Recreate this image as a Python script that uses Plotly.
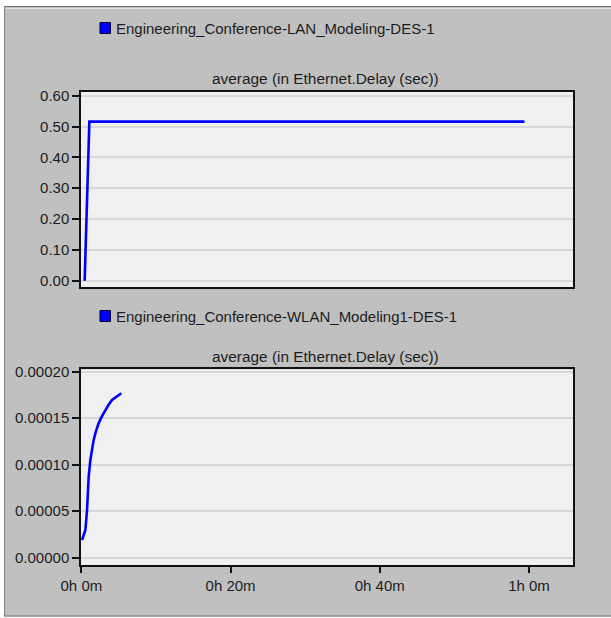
import plotly.graph_objects as go
from plotly.subplots import make_subplots

# ---- data (time in minutes, delay in seconds) ----
lan_name = "Engineering_Conference-LAN_Modeling-DES-1"
wlan_name = "Engineering_Conference-WLAN_Modeling1-DES-1"
panel_title = "average (in Ethernet.Delay (sec))"

lan_time = [0.44, 1.07, 59.4]
lan_delay = [0.0, 0.516, 0.516]

wlan_time = [0.09, 0.54, 0.76, 0.98, 1.2, 1.42, 1.65, 1.95, 2.31, 2.75, 3.21,
             3.65, 4.11, 4.7, 5.35]
wlan_delay = [1.9e-5, 2.98e-5, 5.13e-5, 8.71e-5, 1.05e-4, 1.17e-4, 1.267e-4,
              1.36e-4, 1.445e-4, 1.52e-4, 1.588e-4, 1.645e-4, 1.696e-4,
              1.735e-4, 1.768e-4]

x_tick_vals = [0, 20, 40, 60]
x_tick_text = ["0h 0m", "0h 20m", "0h 40m", "1h 0m"]
y1_ticks = [0.0, 0.1, 0.2, 0.3, 0.4, 0.5, 0.6]
y2_ticks = [0.0, 0.00005, 0.00010, 0.00015, 0.00020]

W, H = 611, 618
L, R, T, B = 81, 37.5, 92, 53
ph = H - T - B
pw = W - L - R

def px_x(x):
    return (x - L) / pw

def px_y(y):
    return (H - B - y) / ph

fig = make_subplots(rows=2, cols=1, shared_xaxes=False, vertical_spacing=0.05)

fig.add_trace(go.Scatter(x=lan_time, y=lan_delay, mode="lines",
                         line=dict(color="#0000ff", width=2.6),
                         showlegend=False, hoverinfo="skip"), row=1, col=1)
fig.add_trace(go.Scatter(x=wlan_time, y=wlan_delay, mode="lines",
                         line=dict(color="#0000ff", width=2.6),
                         showlegend=False, hoverinfo="skip"), row=2, col=1)

font = dict(family="Arial, Liberation Sans, sans-serif", size=15, color="#1c1c1c")
title_font = dict(family="Arial, Liberation Sans, sans-serif", size=15.4, color="#1c1c1c")
tick_font = dict(family="Arial, Liberation Sans, sans-serif", size=15, color="#1c1c1c")

axis_common = dict(showline=True, linecolor="#111111", linewidth=1.5, mirror=True,
                   zeroline=False, tickfont=tick_font)

fig.update_layout(
    width=W, height=H,
    margin=dict(l=L, r=R, t=T, b=B),
    paper_bgcolor="#c0c0c0",
    plot_bgcolor="#f0f0f0",
    font=font,
    xaxis=dict(domain=[0, 1], range=[-0.05, 65.9], showgrid=False,
               showticklabels=False, ticks="", **axis_common),
    yaxis=dict(domain=[px_y(287), 1], range=[-0.0205, 0.612], tickvals=y1_ticks,
               tickformat=".2f", ticks="outside", ticklen=7, tickwidth=1.5,
               tickcolor="#111111", showgrid=True, gridcolor="#d8d8d8", gridwidth=1.5,
               **axis_common),
    xaxis2=dict(domain=[0, 1], range=[-0.05, 65.9], showgrid=False,
                tickvals=x_tick_vals, ticktext=x_tick_text, ticks="outside",
                ticklen=6, tickwidth=1.5, tickcolor="#111111", **axis_common),
    yaxis2=dict(domain=[0, px_y(369.3)], range=[-0.0000078, 0.0002026],
                tickvals=y2_ticks, tickformat=".5f", ticks="outside", ticklen=7,
                tickwidth=1.5, tickcolor="#111111", showgrid=True,
                gridcolor="#d8d8d8", gridwidth=1.5, **axis_common),
)

shapes = [
    # white surroundings of the gray window panel
    dict(type="rect", xref="paper", yref="paper", x0=px_x(-2), x1=px_x(W + 2),
         y0=px_y(6), y1=px_y(-2), fillcolor="white", line=dict(width=0)),
    dict(type="rect", xref="paper", yref="paper", x0=px_x(-2), x1=px_x(4),
         y0=px_y(H + 2), y1=px_y(-2), fillcolor="white", line=dict(width=0)),
    dict(type="rect", xref="paper", yref="paper", x0=px_x(-2), x1=px_x(W + 2),
         y0=px_y(H + 2), y1=px_y(616.5), fillcolor="white", line=dict(width=0)),
    # window border lines
    dict(type="line", xref="paper", yref="paper", x0=px_x(4), x1=px_x(W + 2),
         y0=px_y(6.5), y1=px_y(6.5), line=dict(color="#6e6e6e", width=1.2)),
    dict(type="line", xref="paper", yref="paper", x0=px_x(4), x1=px_x(W + 2),
         y0=px_y(8.5), y1=px_y(8.5), line=dict(color="#e4e4e4", width=1.2)),
    dict(type="line", xref="paper", yref="paper", x0=px_x(4.5), x1=px_x(4.5),
         y0=px_y(6), y1=px_y(616.5), line=dict(color="#8a8a8a", width=1.2)),
    dict(type="line", xref="paper", yref="paper", x0=px_x(4), x1=px_x(W + 2),
         y0=px_y(616), y1=px_y(616), line=dict(color="#6e6e6e", width=1.2)),
    # legend swatches
    dict(type="rect", xref="paper", yref="paper",
         x0=px_x(100), x1=px_x(110.5), y0=px_y(33.5), y1=px_y(22.5),
         fillcolor="#0000ff", line=dict(color="#000033", width=1)),
    dict(type="rect", xref="paper", yref="paper",
         x0=px_x(100), x1=px_x(110.5), y0=px_y(321.5), y1=px_y(310.5),
         fillcolor="#0000ff", line=dict(color="#000033", width=1)),
]

annotations = [
    dict(text=lan_name, xref="paper", yref="paper", x=px_x(114), y=px_y(28.5),
         xanchor="left", yanchor="middle", showarrow=False, font=font),
    dict(text=wlan_name, xref="paper", yref="paper", x=px_x(114), y=px_y(316.5),
         xanchor="left", yanchor="middle", showarrow=False, font=font),
    dict(text=panel_title, xref="paper", yref="paper", x=px_x(326), y=px_y(79),
         xanchor="center", yanchor="middle", showarrow=False, font=title_font),
    dict(text=panel_title, xref="paper", yref="paper", x=px_x(326), y=px_y(356),
         xanchor="center", yanchor="middle", showarrow=False, font=title_font),
]

fig.update_layout(shapes=shapes, annotations=annotations)

fig.write_html("out.html",
               config={"displayModeBar": False},
               post_script="document.body.style.margin='0';document.body.style.overflow='hidden';")
